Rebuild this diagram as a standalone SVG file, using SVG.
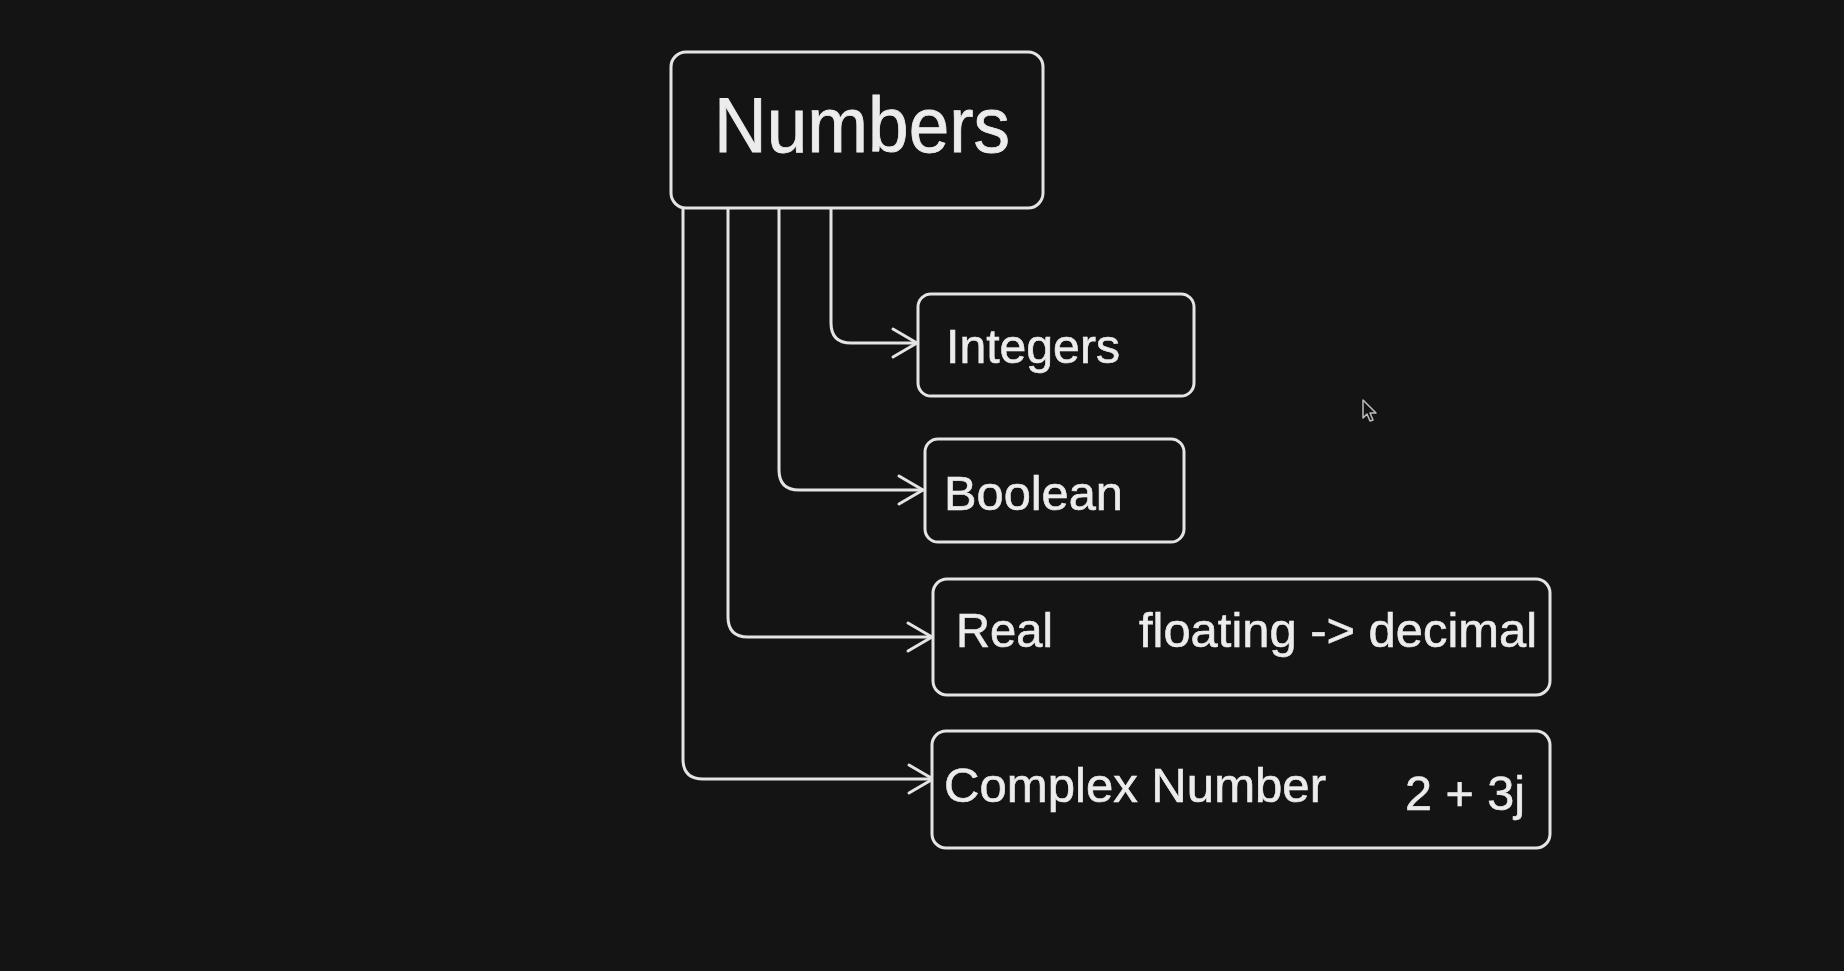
<svg xmlns="http://www.w3.org/2000/svg" width="1844" height="971" viewBox="0 0 1844 971">
  <defs>
    <marker id="arrow" markerUnits="userSpaceOnUse" markerWidth="40" markerHeight="40" viewBox="-30 -20 40 40" refX="0" refY="0" orient="auto">
      <path d="M-24,-14 L0,0 L-24,14" fill="none" stroke="#e4e4e4" stroke-width="3" stroke-linecap="round" stroke-linejoin="round"/>
    </marker>
    <style>
      .box { fill: #141414; stroke: #e4e4e4; stroke-width: 3; }
      .conn { fill: none; stroke: #e4e4e4; stroke-width: 3; stroke-linecap: round; stroke-linejoin: round; }
      .lbl { font-family: "Liberation Sans", Arial, Helvetica, sans-serif; fill: #ececec; font-size: 49px; stroke: #ececec; stroke-width: 0.6px; }
      .title { font-size: 77px; stroke-width: 0.8px; }
    </style>
  </defs>
  <rect width="1844" height="971" fill="#141414"/>

  <g id="connectors">
    <path class="conn" d="M831,209 V323 Q831,343 851,343 H917" marker-end="url(#arrow)"/>
    <path class="conn" d="M779,209 V470 Q779,490 799,490 H923" marker-end="url(#arrow)"/>
    <path class="conn" d="M728,209 V617 Q728,637 748,637 H932" marker-end="url(#arrow)"/>
    <path class="conn" d="M683,209 V759 Q683,779 703,779 H933" marker-end="url(#arrow)"/>
  </g>

  <g id="node-numbers">
    <rect class="box" x="671" y="52" width="372" height="156" rx="15"/>
    <text class="lbl title" x="714" y="152" textLength="296" lengthAdjust="spacingAndGlyphs">Numbers</text>
  </g>

  <g id="node-integers">
    <rect class="box" x="918" y="294" width="276" height="102" rx="13"/>
    <text class="lbl" x="946" y="363" textLength="174" lengthAdjust="spacingAndGlyphs">Integers</text>
  </g>

  <g id="node-boolean">
    <rect class="box" x="925" y="439" width="259" height="103" rx="13"/>
    <text class="lbl" x="944" y="510" textLength="179" lengthAdjust="spacingAndGlyphs">Boolean</text>
  </g>

  <g id="node-real">
    <rect class="box" x="933" y="579" width="617" height="116" rx="14"/>
    <text class="lbl" x="956" y="647" textLength="97" lengthAdjust="spacingAndGlyphs">Real</text>
    <text class="lbl" x="1139" y="647" textLength="398" lengthAdjust="spacingAndGlyphs">floating -&gt; decimal</text>
  </g>

  <g id="node-complex">
    <rect class="box" x="932" y="731" width="618" height="117" rx="14"/>
    <text class="lbl" x="944" y="802" textLength="382" lengthAdjust="spacingAndGlyphs">Complex Number</text>
    <text class="lbl" x="1405" y="810" textLength="120" lengthAdjust="spacingAndGlyphs">2 + 3j</text>
  </g>

  <g id="cursor">
    <path d="M1363,400 L1363,418 L1367,414 L1370,421 L1373,420 L1370,413 L1376,413 Z" fill="#141414" stroke="#bdbdbd" stroke-width="1.5" stroke-linejoin="round"/>
  </g>
</svg>
